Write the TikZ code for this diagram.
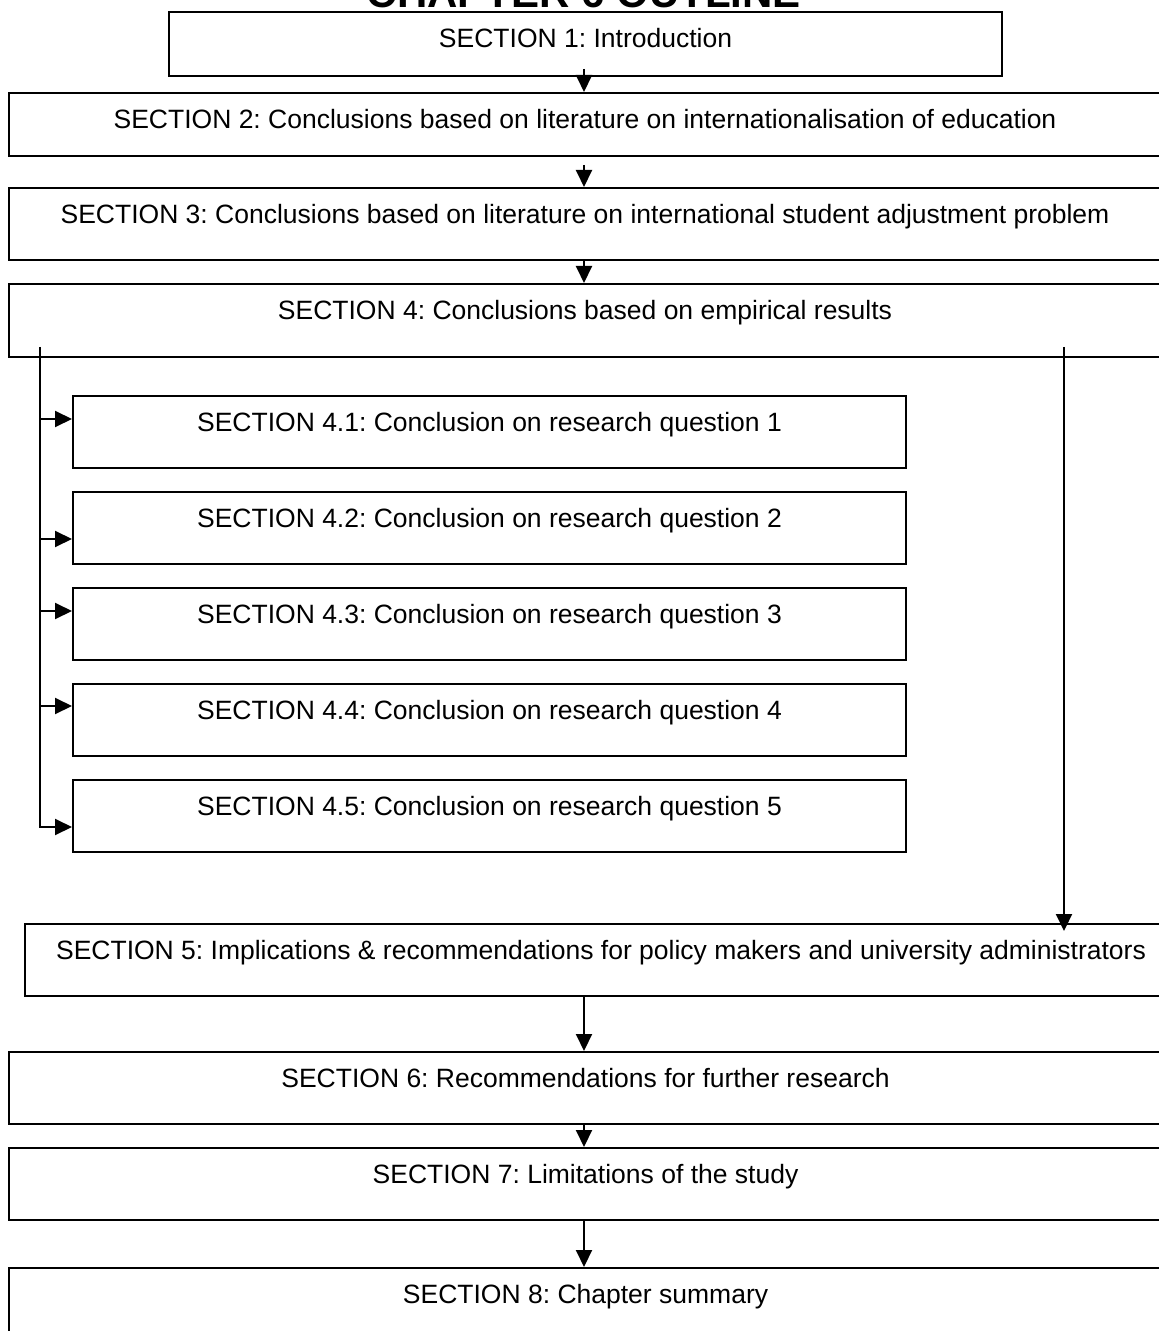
\documentclass[tikz,border=0pt]{standalone}
\usepackage{fontspec}
\setmainfont{Liberation Sans}
\usetikzlibrary{arrows.meta,calc}
\frenchspacing

\tikzset{
  secnode/.style={draw, line width=1pt, inner sep=0pt, text height=17.75pt,
    font=\fontsize{13.25}{16}\selectfont},
  link/.style={line width=1pt},
  arr/.style={line width=1pt, -{Triangle[length=8.5pt,width=8pt]}},
}

% #1 name, #2 left, #3 top, #4 right, #5 bottom, #6 text (pixel grid, y down)
\newcommand{\secbox}[6]{%
  \pgfmathsetmacro{\secW}{(#4-#2)*0.5}%
  \pgfmathsetmacro{\secD}{(#5-#3)*0.5-17.75}%
  \node[secnode, minimum width=\secW pt, text depth=\secD pt, anchor=north west]
    (#1) at (#2,#3) {#6};%
}

\begin{document}
\begin{tikzpicture}[x=0.5pt,y=-0.5pt]
\useasboundingbox (0,0) rectangle (1159,1331);
\fill[white] (0,0) rectangle (1159,1331);
\clip (0,0) rectangle (1159,1331);

\node[anchor=base, font=\fontsize{21}{24}\bfseries\selectfont] (title) at (584,8) {CHAPTER 6 OUTLINE};

\secbox{s1}{168}{11}{1001}{75}{SECTION 1: Introduction}
\secbox{s2}{8}{92}{1160}{155}{SECTION 2: Conclusions based on literature on internationalisation of education}
\secbox{s3}{8}{187}{1160}{259}{SECTION 3: Conclusions based on literature on international student adjustment problem}
\secbox{s4}{8}{283}{1160}{356}{SECTION 4: Conclusions based on empirical results}
\secbox{s41}{72}{395}{905}{467}{SECTION 4.1: Conclusion on research question 1}
\secbox{s42}{72}{491}{905}{563}{SECTION 4.2: Conclusion on research question 2}
\secbox{s43}{72}{587}{905}{659}{SECTION 4.3: Conclusion on research question 3}
\secbox{s44}{72}{683}{905}{755}{SECTION 4.4: Conclusion on research question 4}
\secbox{s45}{72}{779}{905}{851}{SECTION 4.5: Conclusion on research question 5}
\secbox{s5}{24}{923}{1176}{995}{SECTION 5: Implications \& recommendations for policy makers and university administrators}
\secbox{s6}{8}{1051}{1161}{1123}{SECTION 6: Recommendations for further research}
\secbox{s7}{8}{1147}{1161}{1219}{SECTION 7: Limitations of the study}
\secbox{s8}{8}{1267}{1161}{1345}{SECTION 8: Chapter summary}

% main spine
\coordinate (mid) at (584,0);
\draw[arr] ($(s1.south -| mid)+(0,-8)$) -- (s2.north -| mid);
\draw[arr] ($(s2.south -| mid)+(0,8)$) -- (s3.north -| mid);
\draw[arr] (s3.south -| mid) -- (s4.north -| mid);
\draw[arr] (s5.south -| mid) -- (s6.north -| mid);
\draw[arr] (s6.south -| mid) -- (s7.north -| mid);
\draw[arr] (s7.south -| mid) -- (s8.north -| mid);

% left bus feeding the sub-sections
\coordinate (busTop) at (40,347);
\coordinate (a41) at ($(s41.north west)+(0,24)$);
\coordinate (a42) at ($(s42.north west)+(0,48)$);
\coordinate (a43) at ($(s43.north west)+(0,24)$);
\coordinate (a44) at ($(s44.north west)+(0,23)$);
\coordinate (a45) at ($(s45.north west)+(0,48)$);
\draw[arr] (busTop) |- (a45);
\draw[arr] (busTop |- a41) -- (a41);
\draw[arr] (busTop |- a42) -- (a42);
\draw[arr] (busTop |- a43) -- (a43);
\draw[arr] (busTop |- a44) -- (a44);

% right line from section 4 down to section 5
\coordinate (rTop) at (1064,347);
\draw[arr] (rTop) -- ($(rTop |- s5.north)+(0,8)$);
\end{tikzpicture}
\end{document}
